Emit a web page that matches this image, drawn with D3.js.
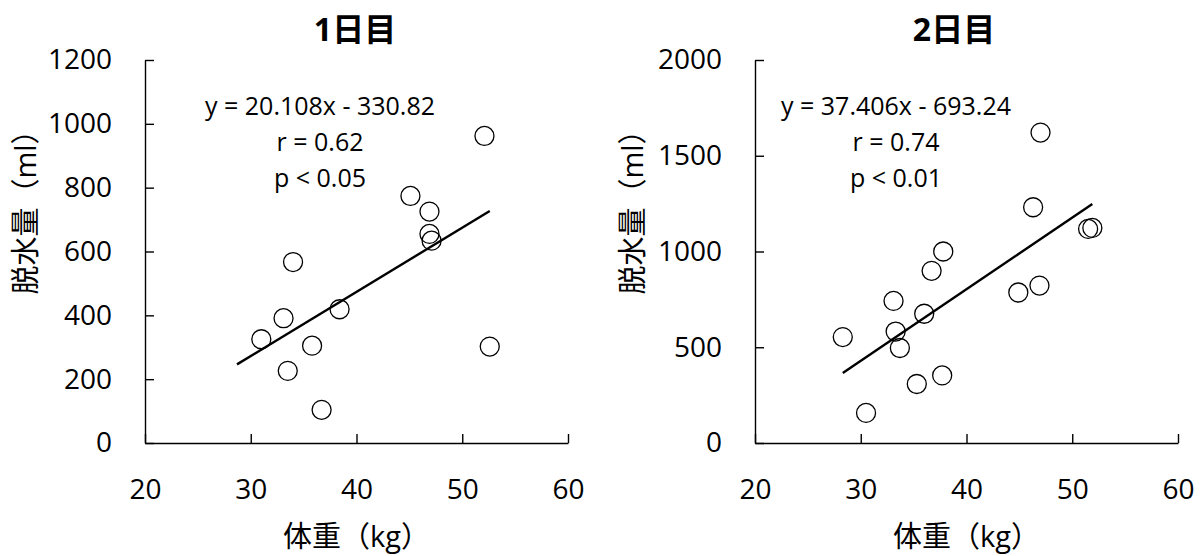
<!DOCTYPE html>
<html>
<head>
<meta charset="utf-8">
<script src="https://cdn.jsdelivr.net/npm/d3@7"></script>
<style>
  body { margin: 0; background: #fff; }
  text { font-family: "Open Sans", "Noto Sans CJK JP", sans-serif; fill: #000; }
</style>
</head>
<body>
<div id="chart"></div>
<script>
// values
const xTicks = [20, 30, 40, 50, 60];

const day1Weight = [52.1, 52.6, 45.1, 46.9, 46.9, 47.1, 34.0, 38.4, 33.1, 31.0, 35.8, 33.5, 36.7];
const day1Water = [962, 302, 774, 725, 655, 634, 567, 419, 391, 325, 305, 226, 104];
const day1YTicks = [0, 200, 400, 600, 800, 1000, 1200];
const day1Trend = [20.108, -330.82];
const day1TrendRange = [28.7, 52.6];
const day1Stats = ["y = 20.108x - 330.82", "r = 0.62", "p < 0.05"];

const day2Weight = [47.0, 46.3, 51.5, 51.9, 37.8, 36.7, 46.9, 44.9, 33.1, 36.0, 33.3, 33.7, 28.3, 37.7, 35.3, 30.5];
const day2Water = [1621, 1231, 1118, 1123, 1000, 899, 822, 786, 742, 675, 582, 496, 553, 353, 308, 157];
const day2YTicks = [0, 500, 1000, 1500, 2000];
const day2Trend = [37.406, -693.24];
const day2TrendRange = [28.3, 51.9];
const day2Stats = ["y = 37.406x - 693.24", "r = 0.74", "p < 0.01"];

const width = 1203, height = 556;
const plotW = 423, plotTop = 60, plotBottom = 443;

const svg = d3.select("#chart").append("svg")
  .attr("width", width)
  .attr("height", height);

function drawPanel(opt) {
  const g = svg.append("g").attr("transform", `translate(${opt.left},0)`);

  const x = d3.scaleLinear().domain([20, 60]).range([0, plotW]);
  const y = d3.scaleLinear().domain([0, d3.max(opt.yTicks)]).range([plotBottom, plotTop]);

  // axes, ticks pointing inward
  const xAxis = g.append("g")
    .attr("transform", `translate(0,${plotBottom})`)
    .call(d3.axisBottom(x).tickValues(xTicks).tickFormat(d3.format("d"))
      .tickSizeInner(-9).tickSizeOuter(0).tickPadding(36));
  const yAxis = g.append("g")
    .call(d3.axisLeft(y).tickValues(opt.yTicks).tickFormat(d3.format("d"))
      .tickSizeInner(-9).tickSizeOuter(0).tickPadding(33));

  [xAxis, yAxis].forEach(a => {
    a.selectAll("path, line").attr("stroke", "#000").attr("stroke-width", 1.4);
    a.selectAll("text")
      .style("font-size", "28px")
      .style("font-family", '"Open Sans", sans-serif')
      .attr("fill", "#000");
  });

  // trend line
  const [slope, intercept] = opt.trend;
  g.append("path")
    .datum(opt.trendRange)
    .attr("fill", "none")
    .attr("stroke", "#000")
    .attr("stroke-width", 2.4)
    .attr("d", d3.line().x(d => x(d)).y(d => y(slope * d + intercept)));

  // points
  g.selectAll("circle.pt")
    .data(opt.xs.map((v, i) => [v, opt.ys[i]]))
    .join("circle")
    .attr("class", "pt")
    .attr("cx", d => x(d[0]))
    .attr("cy", d => y(d[1]))
    .attr("r", 9.5)
    .attr("fill", "none")
    .attr("stroke", "#000")
    .attr("stroke-width", 1.3);

  // regression text
  opt.stats.forEach((s, i) => {
    g.append("text")
      .attr("x", opt.statsX)
      .attr("y", 115 + i * 36)
      .attr("text-anchor", "middle")
      .style("font-size", "25px")
      .text(s);
  });

  // title
  g.append("text")
    .attr("x", opt.titleX)
    .attr("y", 28)
    .attr("text-anchor", "middle")
    .attr("dominant-baseline", "central")
    .style("font-size", "32px")
    .style("font-weight", "bold")
    .text(opt.title);

  // axis titles
  g.append("text")
    .attr("x", plotW / 2)
    .attr("y", 535)
    .attr("text-anchor", "middle")
    .attr("dominant-baseline", "central")
    .style("font-size", "29px")
    .text("体重（kg）");

  g.append("text")
    .attr("transform", `translate(${opt.yTitleX},205) rotate(-90)`)
    .attr("text-anchor", "middle")
    .attr("dominant-baseline", "central")
    .style("font-size", "29px")
    .text("脱水量（ml）");
}

drawPanel({
  left: 145, title: "1日目", titleX: 210, yTitleX: -121, statsX: 175,
  xs: day1Weight, ys: day1Water, yTicks: day1YTicks,
  trend: day1Trend, trendRange: day1TrendRange, stats: day1Stats
});

drawPanel({
  left: 755, title: "2日目", titleX: 199, yTitleX: -124, statsX: 141,
  xs: day2Weight, ys: day2Water, yTicks: day2YTicks,
  trend: day2Trend, trendRange: day2TrendRange, stats: day2Stats
});
</script>
</body>
</html>
